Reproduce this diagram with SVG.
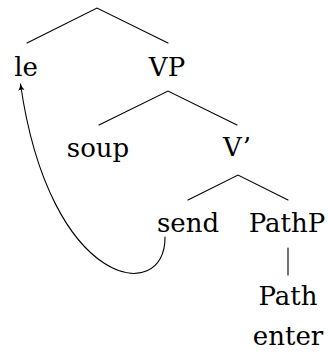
<svg xmlns="http://www.w3.org/2000/svg" width="328" height="354" viewBox="0 0 328 354">
<style>
text{font-family:'DejaVu Serif','Liberation Serif',serif;font-size:26px;fill:#000;text-anchor:middle}
.e{stroke:#000;stroke-width:1.1;fill:none;stroke-linecap:round}
</style>
<defs>
<marker id="ah" viewBox="0 0 10 10" refX="9" refY="5" markerWidth="7" markerHeight="7" markerUnits="userSpaceOnUse" orient="auto">
<path d="M0,0.5 Q4,4 10,5 Q4,6 0,9.5 Q2,5 0,0.5Z" fill="#000"/>
</marker>
</defs>
<rect width="328" height="354" fill="#fff"/>
<g id="connectors">
<path class="e" d="M27,43 L97,8 L168,43"/>
<path class="e" d="M99,125 L168,91 L237,125"/>
<path class="e" d="M188,200 L238,175 L288,200"/>
<path class="e" d="M288,248 L288,275"/>
<path class="e" d="M165,237 C166,305 50,290 20.5,84" marker-end="url(#ah)"/>
</g>
<g id="n-le"><text x="26" y="76">le</text></g>
<g id="n-VP"><text x="167" y="76">VP</text></g>
<g id="n-soup"><text x="98" y="157">soup</text></g>
<g id="n-Vbar"><text x="237" y="156">V’</text></g>
<g id="n-send"><text x="188" y="232">send</text></g>
<g id="n-PathP"><text x="287" y="232">PathP</text></g>
<g id="n-Path"><text x="288" y="305">Path</text></g>
<g id="n-enter"><text x="288" y="345">enter</text></g>
</svg>
